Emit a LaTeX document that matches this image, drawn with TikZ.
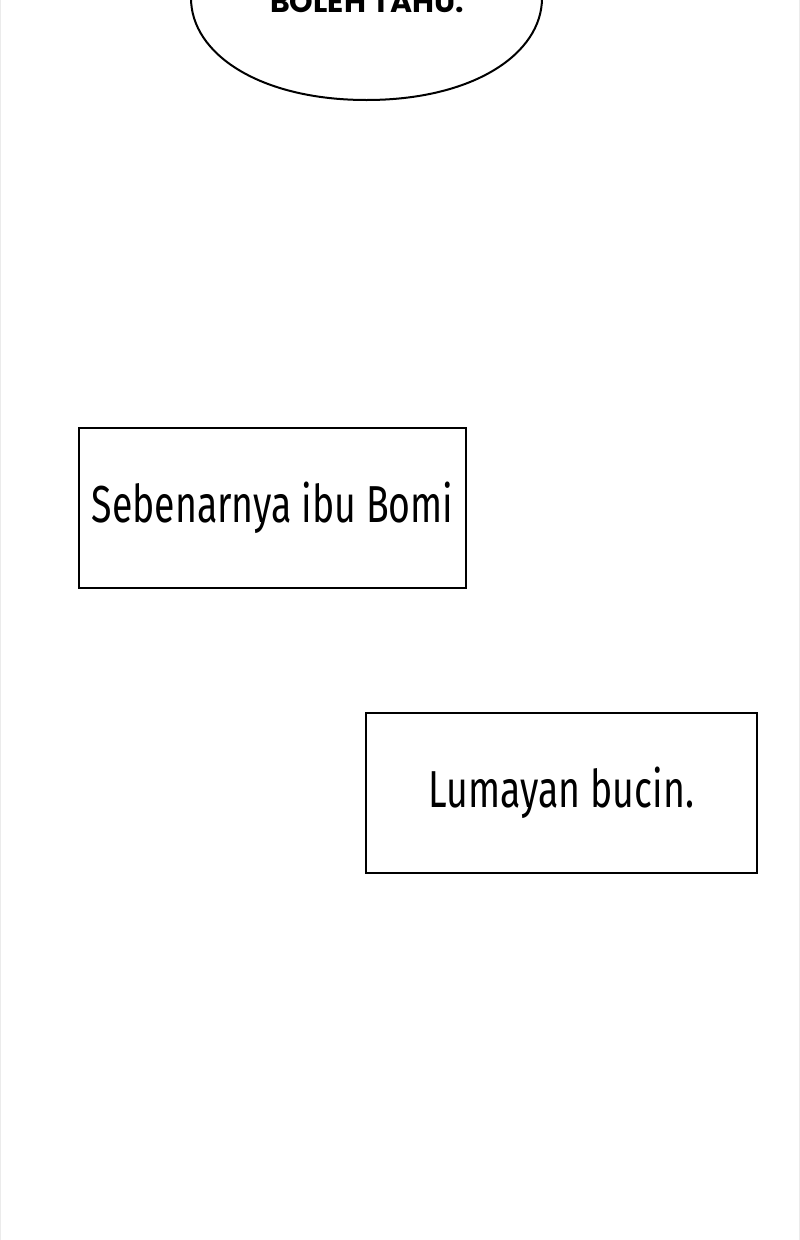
\documentclass[tikz,border=0pt]{standalone}
\usepackage{fontspec}
\newfontfamily\capfont[FakeStretch=0.72]{Fira Sans}
\newfontfamily\comicfont{Poppins}[BoldFont={* Bold}]
\tikzset{
  capbox/.style={draw=black, line width=2pt, fill=white, inner sep=0pt, anchor=north west},
  captext/.style={font=\capfont\fontsize{52}{60}\selectfont, text=black, inner sep=0pt},
  bubble/.style={draw=black, line width=2pt, fill=white},
  edge/.style={draw=black!8, line width=1pt}
}
\begin{document}
\begin{tikzpicture}[x=1pt,y=-1pt]
\useasboundingbox (0,0) rectangle (800,1240);
\fill[white] (0,0) rectangle (800,1240);
\draw[edge] (0.5,0) -- (0.5,1240);
\draw[edge] (799.5,0) -- (799.5,1240);
% speech bubble (cut off at the top)
\draw[bubble] (190.5,-10) -- (191,-2) .. controls (191,54) and (260,100) .. (366.5,100)
  .. controls (473,100) and (542,54) .. (542,-2) -- (542.5,-10);
\node[font=\comicfont\bfseries\fontsize{30}{34}\selectfont, anchor=base, inner sep=0pt] (t0) at (367,12) {BOLEH TAHU.};
% caption boxes
\path[capbox] (79,428) rectangle (466,588);
\coordinate (b1) at (272.5,508);
\node[captext] (t1) at (b1) {Sebenarnya ibu Bomi};
\path[capbox] (366,713) rectangle (757,873);
\coordinate (b2) at (561.5,793);
\node[captext] (t2) at (b2) {Lumayan bucin.};
\end{tikzpicture}
\end{document}
